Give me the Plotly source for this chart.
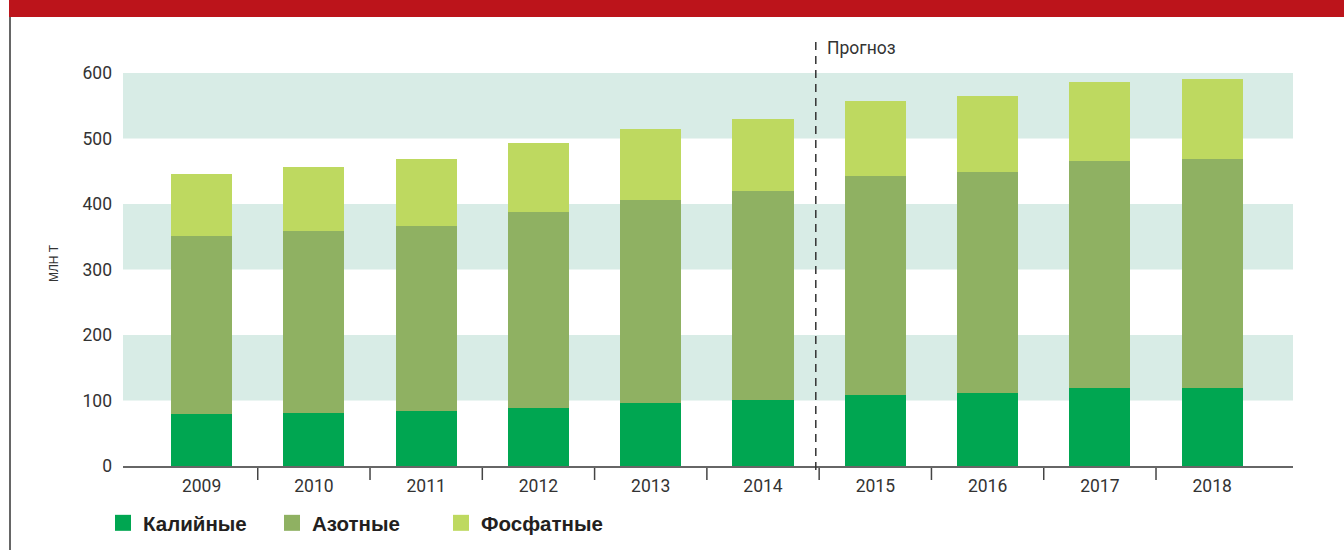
import plotly.graph_objects as go

# Data (млн т)
years = ["2009", "2010", "2011", "2012", "2013", "2014", "2015", "2016", "2017", "2018"]
kaliynye = [79, 81, 84, 89, 96, 101, 108, 111, 119, 119]
azotnye = [272, 278, 282, 299, 310, 319, 335, 338, 347, 350]
fosfatnye = [95, 97, 103, 105, 108, 110, 114, 116, 120, 122]
y_ticks = [0, 100, 200, 300, 400, 500, 600]

colors = {"kal": "#00A651", "az": "#8FB162", "fos": "#BED960"}
band = "#D8ECE6"
narrow = "Roboto, Arial, sans-serif"

W, H = 1344, 550
L, R, T, B = 123, 51, 73, 84
pw, ph = W - L - R, H - T - B


def px(x):
    return (x - L) / pw


def py(y):
    return (H - B - y) / ph


fig = go.Figure()

for name, vals, key in [("Калийные", kaliynye, "kal"), ("Азотные", azotnye, "az"), ("Фосфатные", fosfatnye, "fos")]:
    fig.add_trace(go.Bar(x=years, y=vals, name=name, marker=dict(color=colors[key], line=dict(width=0)),
                         width=0.545, showlegend=False))

# legend entries as square markers
for name, key in [("Калийные", "kal"), ("Азотные", "az"), ("Фосфатные", "fos")]:
    fig.add_trace(go.Scatter(x=[None], y=[None], mode="markers", name=name,
                             marker=dict(symbol="square", size=16, color=colors[key])))

shapes = []
# horizontal bands
for lo in (100, 300, 500):
    shapes.append(dict(type="rect", xref="paper", yref="y", x0=0, x1=1, y0=lo, y1=lo + 100,
                       fillcolor=band, line=dict(width=0), layer="below"))
# category separators under the axis
for i in range(9):
    shapes.append(dict(type="line", xref="x", yref="paper", x0=i + 0.5, x1=i + 0.5,
                       y0=py(468), y1=py(480), line=dict(color="#444", width=1.5)))
# forecast divider
shapes.append(dict(type="line", xref="x", yref="paper", x0=5.47, x1=5.47, y0=py(470), y1=py(40),
                   line=dict(color="#333", width=1.5, dash="8px,6px")))
# red header strip and left border
shapes.append(dict(type="rect", xref="paper", yref="paper", x0=px(9), x1=px(W), y0=py(0), y1=py(17),
                   fillcolor="#BC141B", line=dict(width=0)))
shapes.append(dict(type="line", xref="paper", yref="paper", x0=px(10), x1=px(10), y0=py(17), y1=py(H),
                   line=dict(color="#333", width=1.5)))

annotations = [
    dict(text="Прогноз", xref="x", yref="paper", x=5.55, y=py(48), xanchor="left", yanchor="middle",
         showarrow=False, font=dict(family=narrow, size=17.5, color="#333")),
    dict(text="МЛН Т", xref="paper", yref="paper", x=px(45), y=py(263), textangle=-90,
         showarrow=False, font=dict(family="Liberation Sans, Arial", size=12, color="#333")),
]

fig.update_layout(
    width=W, height=H,
    margin=dict(l=L, r=R, t=T, b=B, autoexpand=False),
    barmode="stack",
    plot_bgcolor="white", paper_bgcolor="white",
    shapes=shapes, annotations=annotations,
    xaxis=dict(type="category", range=[-0.7, 9.72], showgrid=False, showline=True,
               linecolor="#666", linewidth=2, ticks="", ticklabelstandoff=3,
               tickfont=dict(family=narrow, size=17.5, color="#333")),
    yaxis=dict(range=[0, 600], tickvals=y_ticks, showgrid=False, zeroline=False, ticks="",
               ticklabelstandoff=10, tickfont=dict(family=narrow, size=17.5, color="#333")),
    legend=dict(orientation="h", traceorder="normal", x=px(103), y=py(523), xanchor="left", yanchor="middle",
                font=dict(family="Liberation Sans, Arial", size=20.5, color="#231F20", weight="bold"),
                itemwidth=30, entrywidth=124, bgcolor="rgba(0,0,0,0)"),
)

fig.write_html("out.html", config={"displayModeBar": False},
               post_script="document.body.style.margin='0';")
